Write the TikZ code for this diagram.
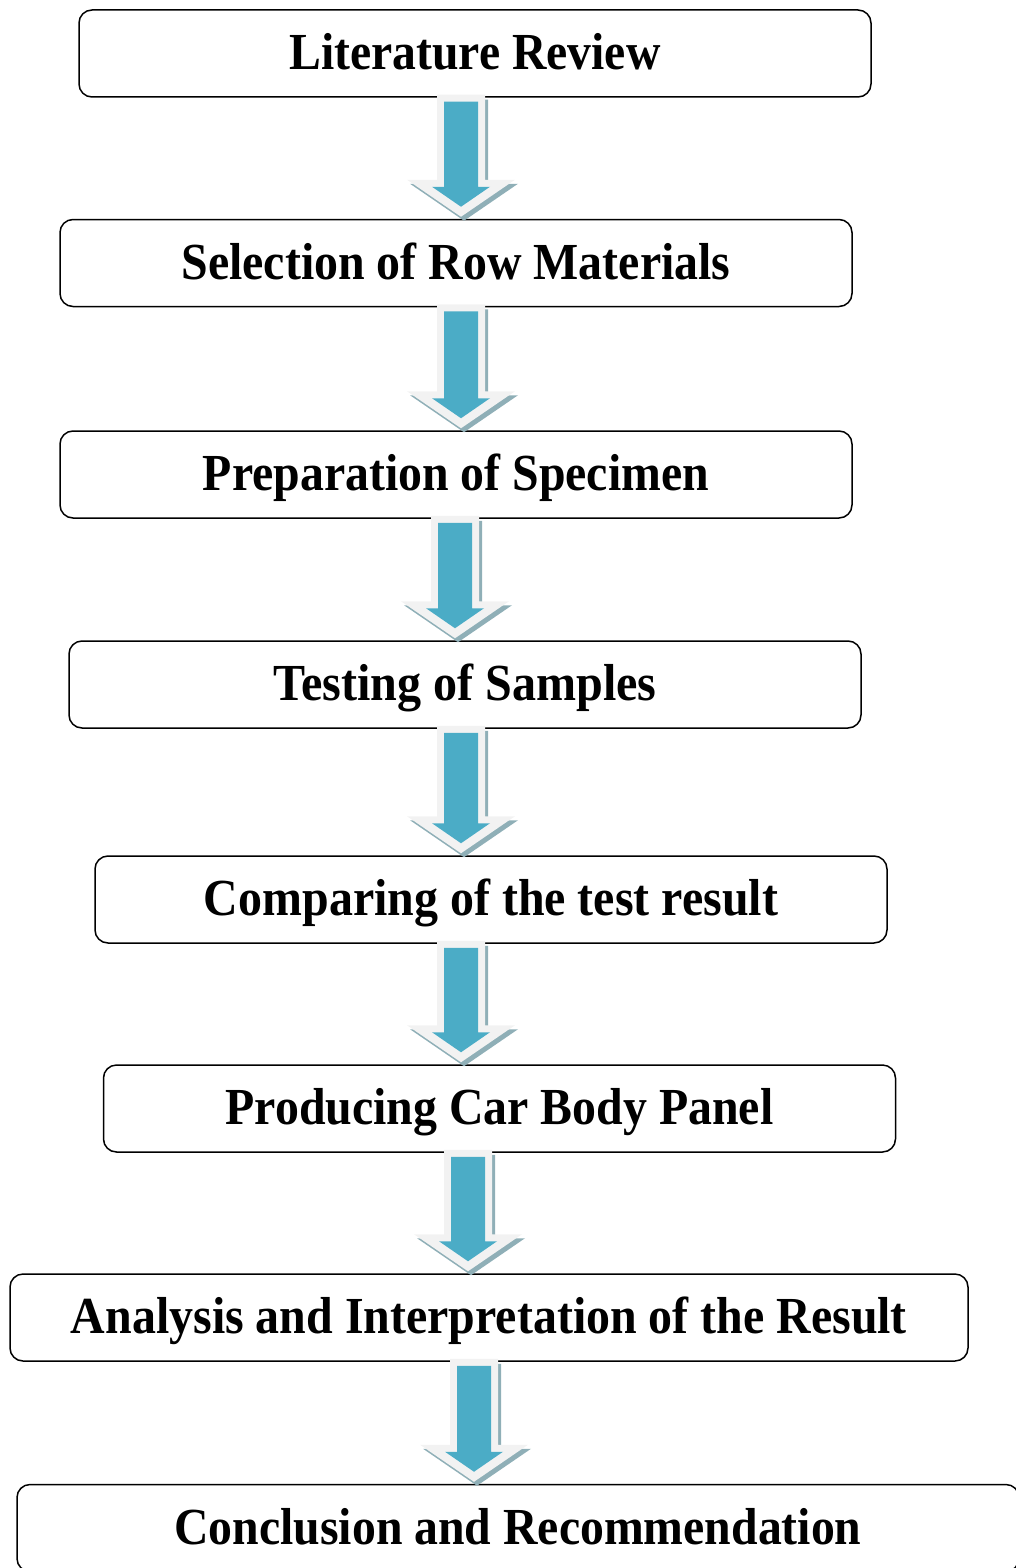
\documentclass[tikz,border=0pt]{standalone}
\usepackage{fontspec}
\setmainfont{Liberation Serif}
\usetikzlibrary{calc}
\definecolor{arrblue}{HTML}{4BACC6}
\definecolor{arrlight}{HTML}{F2F2F2}
\definecolor{arrshadow}{HTML}{8FAFB7}
\tikzset{
  stepbox/.style={draw, line width=1.5pt, rounded corners=13pt, minimum height=87pt,
    inner sep=0pt, font=\fontsize{52}{60}\selectfont\bfseries, text height=35pt, text depth=3pt},
}
\newcommand\fitw[2]{\resizebox{#1pt}{\height}{#2}}
% outer arrow outline: cx, top, tip
\newcommand\outerpoly[3]{({#1-24pt},{#2}) -- ({#1+24pt},{#2}) -- ({#1+24pt},{#3+37pt}) -- ({#1+54pt},{#3+37pt}) -- ({#1},{#3}) -- ({#1-54pt},{#3+37pt}) -- ({#1-24pt},{#3+37pt}) -- cycle}
\newcommand\innerpoly[3]{({#1-17pt},{#2-7pt}) -- ({#1+17pt},{#2-7pt}) -- ({#1+17pt},{#3+30pt}) -- ({#1+29pt},{#3+30pt}) -- ({#1},{#3+10pt}) -- ({#1-29pt},{#3+30pt}) -- ({#1-17pt},{#3+30pt}) -- cycle}
\newcommand\fatarrow[3]{%
  \fill[arrshadow] let \p1=(#1.south), \p2=(#2.north) in \outerpoly{#3pt+3pt}{\y1-2pt}{\y2-2pt};
  \fill[arrlight] let \p1=(#1.south), \p2=(#2.north) in \outerpoly{#3pt}{\y1+3pt}{\y2+2pt};
  \fill[arrblue] let \p1=(#1.south), \p2=(#2.north) in \innerpoly{#3pt}{\y1+3pt}{\y2+2pt};%
}
\begin{document}
\begin{tikzpicture}[x=1pt,y=-1pt]
\useasboundingbox (0,0) rectangle (1015,1568);
\node[stepbox, minimum width=792pt] (n1) at (475,53.5) {\fitw{371}{Literature Review}};
\node[stepbox, minimum width=792pt] (n2) at (456,263) {\fitw{549}{Selection of Row Materials}};
\node[stepbox, minimum width=792pt] (n3) at (456,474.5) {\fitw{506}{Preparation of Specimen}};
\node[stepbox, minimum width=792pt] (n4) at (465,684.5) {\fitw{383}{Testing of Samples}};
\node[stepbox, minimum width=792pt] (n5) at (491,899.5) {\fitw{574}{Comparing of the test result}};
\node[stepbox, minimum width=792pt] (n6) at (499.5,1108.5) {\fitw{548}{Producing Car Body Panel}};
\node[stepbox, minimum width=958pt] (n7) at (489,1317.5) {\fitw{836}{Analysis and Interpretation of the Result}};
\node[stepbox, minimum width=1002pt] (n8) at (518,1528) {\fitw{687}{Conclusion and Recommendation}};
\fatarrow{n1}{n2}{461}
\fatarrow{n2}{n3}{461}
\fatarrow{n3}{n4}{455}
\fatarrow{n4}{n5}{461}
\fatarrow{n5}{n6}{461}
\fatarrow{n6}{n7}{468}
\fatarrow{n7}{n8}{474}
\end{tikzpicture}
\end{document}
